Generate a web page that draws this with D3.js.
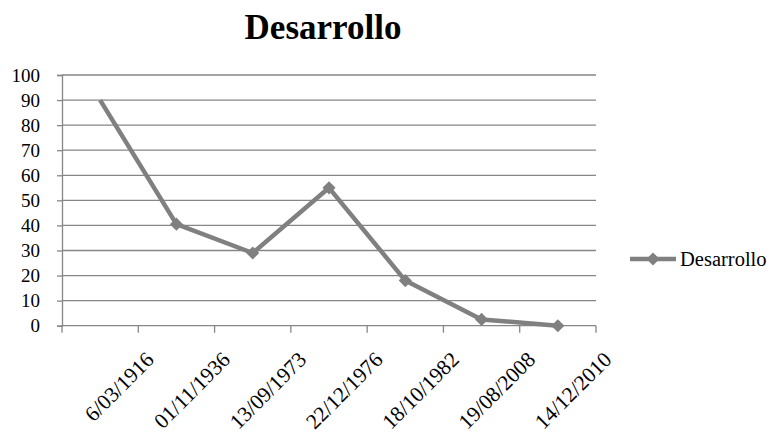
<!DOCTYPE html>
<html>
<head>
<meta charset="utf-8">
<script src="https://cdn.jsdelivr.net/npm/d3@7"></script>
</head>
<body style="margin:0">
<svg id="chart" width="772" height="433" style="font-family: 'Liberation Serif', monospace"></svg>
<script>
const title = "Desarrollo";
const seriesName = "Desarrollo";
const categories = ["6/03/1916", "01/11/1936", "13/09/1973", "22/12/1976", "18/10/1982", "19/08/2008", "14/12/2010"];
const values = [90, 40.5, 29, 55, 18, 2.5, 0];
const yTicks = [0, 10, 20, 30, 40, 50, 60, 70, 80, 90, 100];

const FONT = "'Liberation Serif', monospace";
const svg = d3.select("#chart");
const plot = { left: 62, right: 596, top: 75, bottom: 325.7 };
const gridColor = "#868686";
const lineColor = "#808080";

const x = d3.scaleBand().domain(categories).range([plot.left, plot.right]).padding(0);
const y = d3.scaleLinear().domain([0, 100]).range([plot.bottom, plot.top]);

// Title
svg.append("text")
  .attr("x", 323).attr("y", 39)
  .attr("text-anchor", "middle")
  .style("font-family", FONT)
  .attr("font-size", 35).attr("font-weight", "bold")
  .text(title);

// Gridlines
svg.append("g")
  .selectAll("line")
  .data(yTicks.filter(d => d > 0))
  .join("line")
  .attr("x1", plot.left).attr("x2", plot.right)
  .attr("y1", d => y(d)).attr("y2", d => y(d))
  .attr("stroke", gridColor).attr("stroke-width", 1.3);

// Y axis
const yAxis = svg.append("g")
  .attr("transform", `translate(${plot.left},0)`)
  .call(d3.axisLeft(y).tickValues(yTicks).tickSize(5).tickPadding(17));
yAxis.attr("font-family", null).attr("font-size", null);
yAxis.select(".domain").attr("stroke", gridColor).attr("stroke-width", 1.3);
yAxis.selectAll(".tick line").attr("stroke", gridColor).attr("stroke-width", 1.3);
yAxis.selectAll(".tick text")
  .style("font-family", FONT)
  .style("font-size", "19px")
  .attr("fill", "#000").attr("dy", "0.33em");

// X axis (ticks at category boundaries)
const boundaries = categories.map(c => x(c)).concat([x.range()[1]]);
const xg = svg.append("g");
xg.append("line")
  .attr("x1", plot.left).attr("x2", plot.right)
  .attr("y1", plot.bottom).attr("y2", plot.bottom)
  .attr("stroke", gridColor).attr("stroke-width", 1.3);
xg.selectAll("line.tk")
  .data(boundaries)
  .join("line").attr("class", "tk")
  .attr("x1", d => d).attr("x2", d => d)
  .attr("y1", plot.bottom).attr("y2", plot.bottom + 7)
  .attr("stroke", gridColor).attr("stroke-width", 1.3);
xg.selectAll("text")
  .data(categories)
  .join("text")
  .attr("text-anchor", "end")
  .style("font-family", FONT)
  .attr("font-size", 21.5)
  .attr("transform", d => `translate(${x(d) + x.bandwidth() / 2 + 55},361) rotate(-45)`)
  .text(d => d);

// Line
const cx = d => x(d) + x.bandwidth() / 2;
const lineGen = d3.line().x((d, i) => cx(categories[i])).y(d => y(d));
svg.append("path")
  .datum(values)
  .attr("d", lineGen)
  .attr("fill", "none")
  .attr("stroke", lineColor).attr("stroke-width", 4.5)
  .attr("stroke-linejoin", "round");

// Markers (first point has no visible marker in the original)
const diamond = d3.symbol().type(d3.symbolDiamond2).size(110);
svg.append("g")
  .selectAll("path")
  .data(values.map((v, i) => ({ v, c: categories[i], i })).filter(d => d.i > 0))
  .join("path")
  .attr("d", diamond)
  .attr("transform", d => `translate(${cx(d.c)},${y(d.v)})`)
  .attr("fill", lineColor);

// Legend
const lg = svg.append("g");
lg.append("line")
  .attr("x1", 630).attr("x2", 676).attr("y1", 259).attr("y2", 259)
  .attr("stroke", lineColor).attr("stroke-width", 4.5);
lg.append("path")
  .attr("d", diamond)
  .attr("transform", "translate(653,259)")
  .attr("fill", lineColor);
lg.append("text")
  .attr("x", 680).attr("y", 266)
  .style("font-family", FONT)
  .attr("font-size", 20.5)
  .text(seriesName);
</script>
</body>
</html>
